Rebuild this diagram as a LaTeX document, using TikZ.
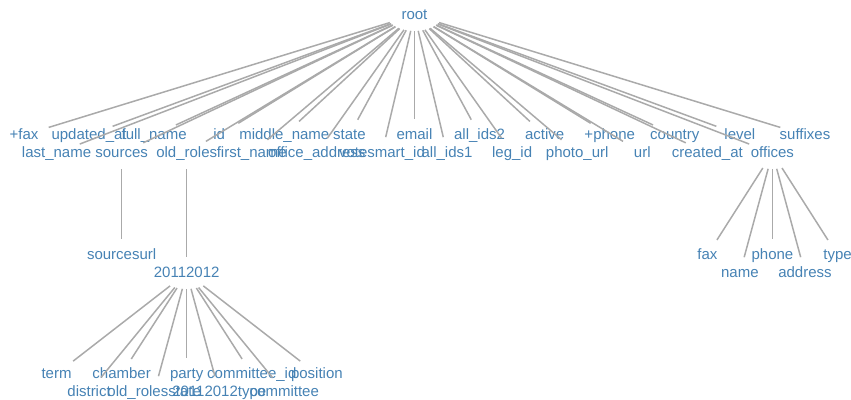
\documentclass[tikz,border=0pt]{standalone}
\usepackage{fontspec}
\setmainfont{Liberation Sans}
\usetikzlibrary{shapes.geometric}
\definecolor{txtblue}{HTML}{4682B4}
\definecolor{linkgray}{HTML}{AAAAAA}
\tikzset{
  hub/.style={ellipse, minimum width=56, minimum height=32, inner sep=0pt, outer sep=0pt},
  lbl/.style={text=txtblue, font=\fontsize{15}{18}\selectfont, inner sep=0pt, anchor=base},
  link/.style={draw=linkgray, line width=1.5pt}
}
\newcommand\treenode[4]{%
  \node[hub] (#1) at (#2,#3) {};
  \node[lbl] (#1-t) at (#2,#3+4) {#4};
}
\begin{document}
\begin{tikzpicture}[x=1pt,y=-1pt]
\useasboundingbox (0,0) rectangle (851,399);
% root
\treenode{root}{414.48}{15}{root}
% level 1
\treenode{fax}{24}{135}{+fax}
\treenode{lastname}{56.54}{153}{last\_name}
\treenode{updatedat}{89.08}{135}{updated\_at}
\treenode{sources}{121.62}{153}{sources}
\treenode{fullname}{154.16}{135}{full\_name}
\treenode{oldroles}{186.7}{153}{old\_roles}
\treenode{id}{219.24}{135}{id}
\treenode{firstname}{251.78}{153}{first\_name}
\treenode{middlename}{284.32}{135}{middle\_name}
\treenode{officeaddress}{316.86}{153}{office\_address}
\treenode{state}{349.4}{135}{state}
\treenode{votesmartid}{381.94}{153}{votesmart\_id}
\treenode{email}{414.48}{135}{email}
\treenode{allidsone}{447.02}{153}{all\_ids1}
\treenode{allidstwo}{479.56}{135}{all\_ids2}
\treenode{legid}{512.1}{153}{leg\_id}
\treenode{active}{544.64}{135}{active}
\treenode{photourl}{577.18}{153}{photo\_url}
\treenode{phone}{609.72}{135}{+phone}
\treenode{url}{642.26}{153}{url}
\treenode{country}{674.8}{135}{country}
\treenode{createdat}{707.34}{153}{created\_at}
\treenode{level}{739.88}{135}{level}
\treenode{offices}{772.42}{153}{offices}
\treenode{suffixes}{804.96}{135}{suffixes}
% level 2
\treenode{sourcesurl}{121.62}{255}{sourcesurl}
\treenode{yr}{186.7}{273}{20112012}
\treenode{ofax}{707.34}{255}{fax}
\treenode{oname}{739.88}{273}{name}
\treenode{ophone}{772.42}{255}{phone}
\treenode{oaddress}{804.96}{273}{address}
\treenode{otype}{837.5}{255}{type}
% level 3
\treenode{term}{56.54}{374}{term}
\treenode{district}{89.08}{392}{district}
\treenode{chamber}{121.62}{374}{chamber}
\treenode{orstate}{154.16}{392}{old\_rolesstate}
\treenode{party}{186.7}{374}{party}
\treenode{yrtype}{219.24}{392}{20112012type}
\treenode{committeeid}{251.78}{374}{committee\_id}
\treenode{committee}{284.32}{392}{committee}
\treenode{position}{316.86}{374}{position}
% links
\begin{scope}[on background layer/.try]
\foreach \c in {fax,lastname,updatedat,sources,fullname,oldroles,id,firstname,middlename,officeaddress,state,votesmartid,email,allidsone,allidstwo,legid,active,photourl,phone,url,country,createdat,level,offices,suffixes}
  \draw[link] (root) -- (\c);
\draw[link] (sources) -- (sourcesurl);
\draw[link] (oldroles) -- (yr);
\foreach \c in {ofax,oname,ophone,oaddress,otype}
  \draw[link] (offices) -- (\c);
\foreach \c in {term,district,chamber,orstate,party,yrtype,committeeid,committee,position}
  \draw[link] (yr) -- (\c);
\end{scope}
\end{tikzpicture}
\end{document}
